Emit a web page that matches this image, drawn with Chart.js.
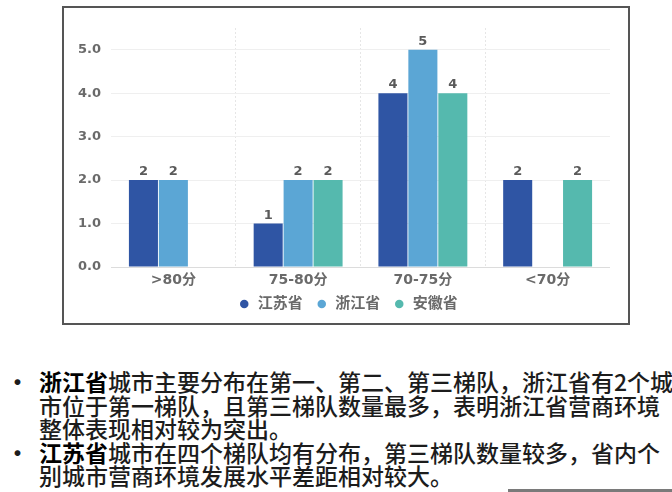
<!DOCTYPE html>
<html>
<head>
<meta charset="utf-8">
<script src="https://cdn.jsdelivr.net/npm/chart.js@4/dist/chart.umd.min.js"></script>
<style>
  html, body { margin: 0; padding: 0; background: #fff; }
  body { width: 672px; height: 492px; position: relative; overflow: hidden; }
  #box { position: absolute; left: 62px; top: 6px; width: 568px; height: 319px; border: 2px solid #555; box-sizing: border-box; }
  #wrap { position: absolute; left: 64px; top: 8px; width: 564px; height: 322px; }
  #notes { position: absolute; left: 0; top: 370px; width: 672px; font-family: "Noto Sans CJK SC", sans-serif; font-size: 23px; font-weight: 500; letter-spacing: 0px; line-height: 23.5px; color: #1c1c1c; white-space: nowrap; }
  #notes .row { position: relative; padding-left: 39px; }
  #notes .dot { position: absolute; left: 6px; top: 0; font-weight: bold; }
  #notes b { color: #000; font-weight: bold; }
  #bar { position: absolute; left: 508px; top: 489px; width: 164px; height: 3px; background: #7a7a7a; }
</style>
</head>
<body>
<div id="box"></div>
<div id="wrap"><canvas id="c"></canvas></div>
<div id="notes">
  <div class="row"><span class="dot">•</span><b>浙江省</b>城市主要分布在第一、第二、第三梯队，浙江省有2个城</div>
  <div class="row">市位于第一梯队，且第三梯队数量最多，表明浙江省营商环境</div>
  <div class="row">整体表现相对较为突出。</div>
  <div class="row"><span class="dot">•</span><b>江苏省</b>城市在四个梯队均有分布，第三梯队数量较多，省内个</div>
  <div class="row">别城市营商环境发展水平差距相对较大。</div>
</div>
<div id="bar"></div>
<script>
// 各梯队城市数量
const categories = ['>80分', '75-80分', '70-75分', '<70分'];
const jiangsu = [2, 1, 4, 2];
const zhejiang = [2, 2, 5, null];
const anhui = [null, 2, 4, 2];
const yTicks = [0, 1, 2, 3, 4, 5];

const colors = ['#2f55a4', '#5ba6d5', '#55b9ae'];

Chart.defaults.font.family = "'DejaVu Sans', 'Noto Sans CJK SC', sans-serif";
Chart.defaults.font.weight = 'bold';
Chart.defaults.color = '#6a6a6a';

// 柱顶数值
const valueLabels = {
    id: 'valueLabels',
    afterDatasetsDraw(chart) {
        const ctx = chart.ctx;
        ctx.save();
        ctx.font = "bold 13px 'DejaVu Sans', sans-serif";
        ctx.fillStyle = '#5a5a5a';
        ctx.textAlign = 'center';
        ctx.textBaseline = 'alphabetic';
        chart.data.datasets.forEach((ds, i) => {
            chart.getDatasetMeta(i).data.forEach((bar, j) => {
                const v = ds.data[j];
                if (v === null || v === undefined) return;
                ctx.fillText(String(v), bar.x, bar.y - 5);
            });
        });
        ctx.restore();
    }
};

// 图例位置微调
const legendShift = {
    id: 'legendShift',
    afterLayout(chart) {
        const lg = chart.legend;
        lg.left += 11;
        lg.right += 11;
        lg.top -= 8.5;
        lg.bottom -= 8.5;
    }
};

new Chart(document.getElementById('c'), {
    type: 'bar',
    data: {
        labels: categories,
        datasets: [
            { label: '江苏省', data: jiangsu, backgroundColor: colors[0] },
            { label: '浙江省', data: zhejiang, backgroundColor: colors[1] },
            { label: '安徽省', data: anhui, backgroundColor: colors[2] }
        ]
    },
    options: {
        responsive: true,
        maintainAspectRatio: false,
        animation: false,
        categoryPercentage: 0.72,
        barPercentage: 0.97,
        layout: { padding: { left: 0, right: 18, top: 20, bottom: 0 } },
        plugins: {
            tooltip: { enabled: false },
            legend: {
                position: 'bottom',
                labels: {
                    usePointStyle: true,
                    pointStyle: 'circle',
                    boxWidth: 12,
                    boxHeight: 6,
                    padding: 13,
                    font: { size: 15, weight: 'bold' },
                    color: '#6a6a6a'
                }
            }
        },
        scales: {
            x: {
                grid: {
                    drawTicks: false,
                    color: (c) => (c.type === 'tick' && c.index > 0) ? '#e6e6e6' : 'rgba(0,0,0,0)'
                },
                border: { display: false, dash: [2, 2] },
                ticks: { padding: 5, font: { size: 14 } },
                afterFit(scale) { scale.height = 25; }
            },
            y: {
                min: 0,
                max: 5.5,
                grid: {
                    drawTicks: false,
                    color: (c) => c.index === 0 ? '#dcdcdc' : '#efefef'
                },
                border: { display: false },
                ticks: {
                    stepSize: 1,
                    padding: 10,
                    font: { size: 13 },
                    callback: (v) => Number(v).toFixed(1)
                },
                afterBuildTicks(scale) {
                    scale.ticks = yTicks.map(v => ({ value: v }));
                },
                afterFit(scale) { scale.width = 47; }
            }
        }
    },
    plugins: [valueLabels, legendShift]
});
</script>
</body>
</html>
